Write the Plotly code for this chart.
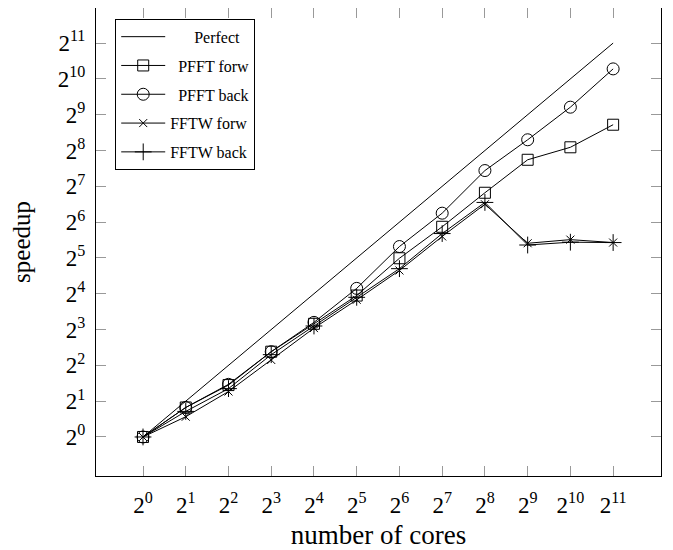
import math
import plotly.graph_objects as go

cores = [1, 2, 4, 8, 16, 32, 64, 128, 256, 512, 1024, 2048]
perfect = [1, 2, 4, 8, 16, 32, 64, 128, 256, 512, 1024, 2048]
pfft_forw = [1, 1.77, 2.73, 5.21, 8.94, 15.45, 31.8, 58.5, 113.0, 214.0, 272.5, 421.7]
pfft_back = [1, 1.77, 2.77, 5.21, 9.19, 17.75, 39.9, 76.1, 173.7, 315.2, 592.3, 1243.0]
fftw_forw = [1, 1.48, 2.41, 4.44, 8.23, 14.22, 25.1, 48.5, 90.5, 42.5, 45.6, 43.1]
fftw_back = [1, 1.64, 2.55, 4.92, 8.57, 14.93, 26.0, 51.3, 93.7, 41.1, 43.4, 43.1]

tick_vals = [2 ** k for k in range(12)]
tick_text = [f"2<sup>{k}</sup>" for k in range(12)]

NB = "\u00a0"
series = [
    (NB * 6 + "Perfect", perfect, None, None),
    (NB * 2 + "PFFT forw", pfft_forw, "square-open", 11),
    (NB * 2 + "PFFT back", pfft_back, "circle-open", 12),
    ("FFTW forw", fftw_forw, "x-thin-open", 8),
    ("FFTW back", fftw_back, "cross-thin-open", 12),
]

fig = go.Figure()
for i, (name, vals, sym, size) in enumerate(series):
    if sym is None:
        fig.add_trace(go.Scatter(x=cores, y=vals, name=name, mode="lines",
                                 legendgroup=f"g{i}",
                                 line=dict(color="black", width=1)))
    else:
        fig.add_trace(go.Scatter(x=cores, y=vals, name=name, mode="lines+markers",
                                 legendgroup=f"g{i}",
                                 line=dict(color="black", width=1),
                                 marker=dict(symbol=sym, size=size, color="black",
                                             line=dict(color="black", width=1))))

L2 = math.log10(2)
x_range = [-1.10 * L2, 12.12 * L2]
y_range = [-1.09 * L2, 11.98 * L2]

axis_common = dict(
    type="log", tickmode="array", tickvals=tick_vals, ticktext=tick_text,
    showline=True, linecolor="black", linewidth=1, mirror="ticks",
    ticks="inside", ticklen=10, tickcolor="#999", tickwidth=1,
    showgrid=False, zeroline=False, automargin=False,
    tickfont=dict(family="Liberation Serif", size=23, color="black"),
)

fig.update_layout(
    width=665, height=542,
    margin=dict(l=88, r=12, t=0, b=74),
    paper_bgcolor="white", plot_bgcolor="white",
    font=dict(family="Liberation Serif", color="black"),
    xaxis=dict(**axis_common, range=x_range, ticklabelstandoff=8,
               title=dict(text="number of cores",
                          font=dict(family="Liberation Serif", size=27), standoff=10)),
    yaxis=dict(**axis_common, range=y_range, ticklabelstandoff=5,
               title=dict(text="speedup",
                          font=dict(family="Liberation Serif", size=25), standoff=22)),
    legend=dict(x=0.034, y=0.977, xanchor="left", yanchor="top",
                bgcolor="white", bordercolor="black", borderwidth=1,
                font=dict(family="Liberation Serif", size=16, color="black"),
                itemwidth=44, tracegroupgap=5),
    showlegend=True,
)

fig.write_html("out.html")
